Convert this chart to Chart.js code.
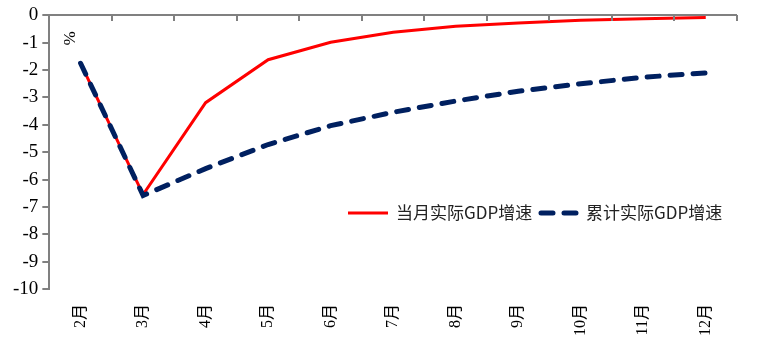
<!DOCTYPE html>
<html>
<head>
<meta charset="utf-8">
<script src="https://cdn.jsdelivr.net/npm/chart.js@4/dist/chart.umd.min.js"></script>
<style>
  html, body { margin: 0; padding: 0; background: #fff; }
  #wrap { position: relative; width: 763px; height: 356px; }
</style>
</head>
<body>
<div id="wrap"><canvas id="c" width="763" height="356"></canvas></div>
<script>
// ---- data ----
const categories = ['2月','3月','4月','5月','6月','7月','8月','9月','10月','11月','12月'];
const monthlyGdp = [-1.75, -6.55, -3.19, -1.62, -0.98, -0.62, -0.40, -0.28, -0.18, -0.12, -0.08];
const cumulativeGdp = [-1.75, -6.58, -5.60, -4.72, -4.03, -3.54, -3.13, -2.77, -2.50, -2.26, -2.10];
const seriesNames = ['当月实际GDP增速', '累计实际GDP增速'];
const yTicks = [0, -1, -2, -3, -4, -5, -6, -7, -8, -9, -10];
const unitLabel = '%';

const RED = '#FF0000';
const NAVY = '#002060';
const GRAY = '#808080';
const SERIF = '"Liberation Serif", "Noto Sans CJK SC", serif';
const SANS = '"Noto Sans CJK SC", "Noto Sans", sans-serif';

// top axis line (at value 0) with inward tick marks at category boundaries
const topAxisPlugin = {
  id: 'topAxis',
  afterDatasetsDraw(chart) {
    const ctx = chart.ctx, x = chart.scales.x, y = chart.scales.y;
    const ca = chart.chartArea;
    const y0 = Math.round(y.getPixelForValue(0));
    ctx.save();
    ctx.strokeStyle = GRAY;
    ctx.lineWidth = 2;
    ctx.beginPath();
    ctx.moveTo(ca.left - 1, y0);
    ctx.lineTo(ca.right, y0);
    for (let i = 0; i <= categories.length; i++) {
      const px = Math.round(x.getPixelForValue(i - 0.5));
      ctx.moveTo(px, y0);
      ctx.lineTo(px, y0 + 6);
    }
    ctx.stroke();
    // unit label
    ctx.fillStyle = '#000';
    ctx.font = '17px ' + SERIF;
    ctx.translate(ca.left + 19, ca.top + 23);
    ctx.rotate(Math.PI / 2);
    ctx.textAlign = 'center';
    ctx.textBaseline = 'middle';
    ctx.fillText(unitLabel, 0, 0);
    ctx.restore();
  }
};

// in-plot legend
const inLegendPlugin = {
  id: 'inLegend',
  afterDraw(chart) {
    const ctx = chart.ctx;
    const ds = chart.data.datasets;
    const items = [
      { x: 348, ds: ds[1] },
      { x: 538, ds: ds[0] }
    ];
    const yy = 213;
    ctx.save();
    ctx.font = '17px ' + SANS;
    ctx.textBaseline = 'middle';
    ctx.fillStyle = '#222';
    items.forEach(it => {
      ctx.strokeStyle = it.ds.borderColor;
      ctx.lineWidth = it.ds.borderWidth;
      ctx.lineCap = it.ds.borderCapStyle || 'butt';
      ctx.setLineDash(it.ds.borderDash || []);
      ctx.beginPath();
      ctx.moveTo(it.x + (it.ds.borderDash ? 3 : 0), yy);
      ctx.lineTo(it.x + 40, yy);
      ctx.stroke();
      ctx.setLineDash([]);
      ctx.fillText(it.ds.label, it.x + 48, yy);
    });
    ctx.restore();
  }
};

new Chart(document.getElementById('c'), {
  type: 'line',
  data: {
    labels: categories,
    datasets: [
      {
        label: seriesNames[1],
        data: cumulativeGdp,
        borderColor: NAVY,
        backgroundColor: NAVY,
        borderWidth: 5,
        borderDash: [12, 11],
        borderCapStyle: 'round',
        pointRadius: 0,
        tension: 0,
        order: 0
      },
      {
        label: seriesNames[0],
        data: monthlyGdp,
        borderColor: RED,
        backgroundColor: RED,
        borderWidth: 3,
        pointRadius: 0,
        tension: 0,
        order: 1
      }
    ]
  },
  options: {
    responsive: false,
    animation: false,
    devicePixelRatio: 1,
    layout: { padding: { left: 9, right: 26, top: 15, bottom: 13 } },
    plugins: {
      legend: { display: false },
      tooltip: { enabled: false }
    },
    scales: {
      x: {
        type: 'category',
        offset: true,
        grid: { display: false },
        border: { display: false },
        ticks: {
          minRotation: 90,
          maxRotation: 90,
          padding: 7,
          color: '#000',
          font: { family: SERIF, size: 16 }
        }
      },
      y: {
        min: -10,
        max: 0,
        border: { display: true, color: GRAY, width: 2 },
        grid: {
          drawOnChartArea: false,
          drawTicks: true,
          tickLength: 7,
          color: GRAY,
          lineWidth: 2
        },
        afterBuildTicks(scale) {
          scale.ticks = yTicks.map(v => ({ value: v }));
        },
        ticks: {
          padding: 4,
          color: '#000',
          font: { family: SERIF, size: 19 }
        }
      }
    }
  },
  plugins: [topAxisPlugin, inLegendPlugin]
});
</script>
</body>
</html>
